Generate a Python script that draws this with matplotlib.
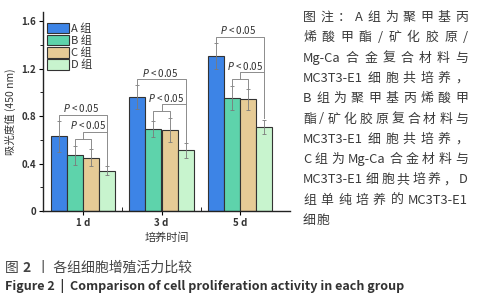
import re
import matplotlib
matplotlib.use('Agg')
import matplotlib.pyplot as plt
from matplotlib.patches import Patch

plt.rcParams['font.family'] = ['Noto Sans CJK SC', 'DejaVu Sans']

# ---------------- data ----------------
days = ['1 d', '3 d', '5 d']
groups = ['A 组', 'B 组', 'C 组', 'D 组']
means_A = [0.63, 0.96, 1.31]
means_B = [0.47, 0.69, 0.95]
means_C = [0.45, 0.68, 0.94]
means_D = [0.34, 0.51, 0.71]
err_A = [0.13, 0.10, 0.11]
err_B = [0.08, 0.07, 0.10]
err_C = [0.07, 0.10, 0.09]
err_D = [0.04, 0.06, 0.06]
y_ticks = [0, 0.4, 0.8, 1.2, 1.6]
y_ticklabels = ['0', '0.4', '0.8', '1.2', '1.6']
p_label = r'$\mathit{P}$ < 0.05'
y_label = '吸光度值 (450 nm)'
x_label = '培养时间'
note_lines = [
    '图注：A组为聚甲基丙',
    '烯酸甲酯/矿化胶原/',
    'Mg-Ca 合金复合材料与',
    'MC3T3-E1 细胞共培养，',
    'B组为聚甲基丙烯酸甲',
    '酯/矿化胶原复合材料与',
    'MC3T3-E1 细胞共培养，',
    'C组为 Mg-Ca 合金材料与',
    'MC3T3-E1 细胞共培养，D',
    '组单纯培养的 MC3T3-E1',
    '细胞',
]
caption_cn = [('图 ', 'normal'), ('2', 'bold'), ('  丨 各组细胞增殖活力比较', 'normal')]
caption_en = 'Figure 2  |  Comparison of cell proliferation activity in each group'

colors = ['#3d84e6', '#5ed3ab', '#e6cb96', '#c8f4ce']
edge = '#333333'
txt_col = '#333333'

W, H = 481, 300
fig = plt.figure(figsize=(W / 100, H / 100), dpi=100)
fig.patch.set_facecolor('white')

ax = fig.add_axes([43 / W, 1 - 211 / H, (290 - 43) / W, (211 - 11.7) / H])

means = [means_A, means_B, means_C, means_D]
errs = [err_A, err_B, err_C, err_D]
bw = 0.204
offsets = [-1.5 * bw, -0.5 * bw, 0.5 * bw, 1.5 * bw]
xs = list(range(len(days)))

for g in range(4):
    xpos = [x + offsets[g] for x in xs]
    ax.bar(xpos, means[g], width=bw, color=colors[g], edgecolor=edge,
           linewidth=0.8, label=groups[g], zorder=2)
    ax.errorbar(xpos, means[g], yerr=errs[g], fmt='none', ecolor='#7a7a7a',
                elinewidth=0.6, capsize=1.5, capthick=0.6, zorder=3)

lc = '#8c8c8c'
for i, c in enumerate(xs):
    xA, xB, xC, xD = [c + o for o in offsets]
    tA = means_A[i] + err_A[i]
    tB = means_B[i] + err_B[i]
    tC = means_C[i] + err_C[i]
    tD = means_D[i] + err_D[i]
    outer = tA + 0.05
    small = max(tB, tC) + 0.06
    inner = small + 0.06
    ax.plot([xA, xA, xD, xD], [tA + 0.005, outer, outer, tD + 0.01],
            color=lc, lw=0.7, zorder=4)
    ax.plot([xB, xB, xC, xC], [tB + 0.005, small, small, tC + 0.005],
            color=lc, lw=0.7, zorder=4)
    mid = (xB + xC) / 2
    ax.plot([mid, mid, xD], [small, inner, inner], color=lc, lw=0.7, zorder=4)
    ax.text(c - 0.02, outer + 0.055, p_label, ha='center', va='center',
            fontsize=7, color=txt_col)
    ax.text(c + 0.06, inner + 0.055, p_label, ha='center', va='center',
            fontsize=7, color=txt_col)

ax.set_xlim((43 - 83) / 78.5, (290 - 83) / 78.5)
ax.set_ylim(0, 1.68)
ax.set_yticks(y_ticks)
ax.set_yticklabels(y_ticklabels)
ax.set_yticks([0.2, 0.6, 1.0, 1.4], minor=True)
ax.set_xticks(xs)
ax.set_xticklabels(days)
ax.set_xticks([0.5, 1.5], minor=True)
ax.tick_params(axis='both', which='major', labelsize=7, labelcolor=txt_col,
               length=3, width=0.8, direction='out', pad=2)
ax.tick_params(axis='y', which='minor', length=2, width=0.6, direction='out')
ax.tick_params(axis='x', which='minor', length=3, width=0.6, direction='in')
for lab in ax.get_xticklabels() + ax.get_yticklabels():
    lab.set_fontweight('bold')
for s in ['top', 'right']:
    ax.spines[s].set_visible(False)
for s in ['left', 'bottom']:
    ax.spines[s].set_linewidth(1.0)
    ax.spines[s].set_color('#222222')
ax.set_ylabel(y_label, fontsize=7.5, color=txt_col, labelpad=4)
ax.set_xlabel(x_label, fontsize=8, color=txt_col, labelpad=3)

handles = [Patch(facecolor=colors[g], edgecolor=edge, linewidth=0.8) for g in range(4)]
ax.legend(handles, groups, loc='upper left', bbox_to_anchor=(0.015, 0.945),
          frameon=False, fontsize=8, handlelength=2.0, handleheight=1.05,
          labelspacing=0.12, handletextpad=0.2, borderpad=0, borderaxespad=0,
          labelcolor=txt_col)

# ---------------- note text (justified) ----------------
renderer = fig.canvas.get_renderer()
x0, x1 = 303, 468
fs_note = 9.3
for li, line in enumerate(note_lines):
    yb = 21 + li * 20.3
    tokens = re.findall(r'[A-Za-z0-9\-]+|\S', line)
    tobjs = [fig.text(0, 1 - yb / H, t, fontsize=fs_note, color='#3a3a3a',
                      ha='left', va='baseline') for t in tokens]
    widths = [t.get_window_extent(renderer).width for t in tobjs]
    if li < len(note_lines) - 1 and len(tokens) > 1:
        gap = (x1 - x0 - sum(widths)) / (len(tokens) - 1)
    else:
        gap = 1.0
    x = x0
    for t, w in zip(tobjs, widths):
        t.set_x(x / W)
        x += w + gap

# ---------------- captions ----------------
x = 5
for s, wt in caption_cn:
    t = fig.text(x / W, 1 - 272 / H, s, fontsize=10, color='#444444',
                 fontweight=wt, ha='left', va='baseline')
    x += t.get_window_extent(renderer).width

t = fig.text(5 / W, 1 - 290 / H, caption_en, fontsize=8, color='#333333',
             fontweight='bold', ha='left', va='baseline')
w = t.get_window_extent(renderer).width
t.set_fontsize(8 * 400 / w)

fig.savefig('out.png', dpi=100)
